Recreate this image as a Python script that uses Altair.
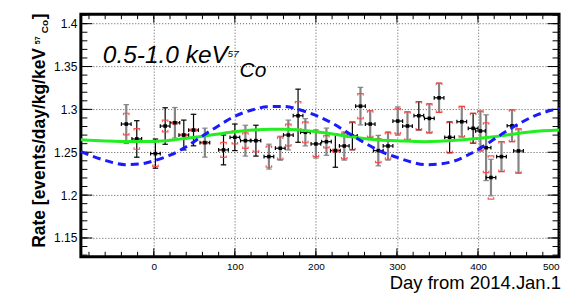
import altair as alt
import pandas as pd

# ---------------- data ----------------
days = [-34, -21, 2, 14, 26, 37, 49, 63, 86, 100, 113, 126, 142, 156, 166, 178,
        187, 200, 213, 224, 235, 245, 255, 267, 277, 289, 301, 313, 327, 340,
        352, 365, 380, 394, 403, 410, 416, 429, 442, 450]
rates = [1.2829, 1.2655, 1.2484, 1.2806, 1.2844, 1.2701, 1.2759, 1.2612, 1.2527,
         1.2674, 1.2635, 1.2635, 1.2449, 1.2547, 1.2701, 1.2926, 1.2733, 1.2597,
         1.2623, 1.2519, 1.2573, 1.2690, 1.3038, 1.2829, 1.2519, 1.2573, 1.2864,
         1.2806, 1.2926, 1.2895, 1.3135, 1.2674, 1.2856, 1.2779, 1.2748, 1.2553,
         1.2205, 1.2449, 1.2809, 1.2515]
stat_err = [0.0227, 0.0213, 0.0170, 0.0213, 0.0178, 0.0174, 0.0184, 0.0169, 0.0174,
            0.0155, 0.0180, 0.0180, 0.0145, 0.0140, 0.0174, 0.0310, 0.0159, 0.0165,
            0.0159, 0.0194, 0.0165, 0.0161, 0.0219, 0.0155, 0.0178, 0.0165, 0.0165,
            0.0165, 0.0165, 0.0170, 0.0171, 0.0180, 0.0178, 0.0174, 0.0233, 0.0384,
            0.0213, 0.0174, 0.0186, 0.0258]
sys_err = [0.0126, 0.0120, 0.0150, 0.0068, 0.0012, 0.0010, 0.0012, 0.0012, 0.0087,
           0.0077, 0.0091, 0.0130, 0.0124, 0.0131, 0.0126, 0.0165, 0.0122, 0.0149,
           0.0072, 0.0015, 0.0151, 0.0161, 0.0147, 0.0155, 0.0140, 0.0155, 0.0149,
           0.0165, 0.0165, 0.0170, 0.0171, 0.0180, 0.0178, 0.0174, 0.0233, 0.0290,
           0.0252, 0.0174, 0.0186, 0.0258]
bar_kind = ["gray", "black", "black", "black", "gray", "black", "black", "gray",
            "black", "black", "gray", "black", "gray", "gray", "gray", "black",
            "gray", "gray", "gray", "black", "gray", "black", "gray", "gray",
            "gray", "gray", "gray", "gray", "black", "gray", "gray", "black",
            "gray", "black", "gray", "gray", "gray", "gray", "gray", "gray"]
x_half = [6] * len(days)

blue_days = [-90, -60, -35, -15, 0, 20, 40, 60, 80, 100, 120, 140, 160, 180, 200,
             220, 240, 260, 280, 300, 320, 335, 350, 370, 390, 410, 430, 450, 470, 500]
blue_rate = [1.2507, 1.2405, 1.2355, 1.2365, 1.2400, 1.2465, 1.2565, 1.2690, 1.2810,
             1.2920, 1.2990, 1.3030, 1.3035, 1.2995, 1.2930, 1.2840, 1.2725, 1.2610,
             1.2510, 1.2440, 1.2380, 1.2355, 1.2360, 1.2395, 1.2480, 1.2590, 1.2715,
             1.2830, 1.2925, 1.3012]
green_days = [-90, -60, -30, 0, 30, 56, 100, 144, 162, 200, 244, 279, 300, 334,
              378, 420, 466, 500]
green_rate = [1.2645, 1.2632, 1.2625, 1.2625, 1.2650, 1.2680, 1.2740, 1.2767, 1.2767,
              1.2740, 1.2680, 1.2643, 1.2635, 1.2623, 1.2643, 1.2680, 1.2740, 1.2759]

x_major = [0, 100, 200, 300, 400, 500]
x_minor = list(range(-80, 501, 20))
y_major = [1.15, 1.2, 1.25, 1.3, 1.35, 1.4]
y_minor = [round(1.13 + 0.01 * i, 2) for i in range(29)]

# ---------------- chart ----------------
W, H = 479, 243
FONT = "Liberation Sans"
X0, X1 = -90, 500
Y0, Y1 = 1.128, 1.411
xs = alt.Scale(domain=[X0, X1], nice=False, zero=False)
ys = alt.Scale(domain=[Y0, Y1], nice=False, zero=False)
XPX = (X1 - X0) / W   # data units per pixel
YPX = (Y1 - Y0) / H

AX_X = alt.Axis(values=x_major, format="d", grid=True, gridColor="#555", gridDash=[1, 2],
                gridWidth=1, ticks=False, domain=False, labelFont=FONT, labelFontSize=10,
                labelColor="black", labelPadding=5, title=None)
AX_Y = alt.Axis(values=y_major, format="~g", grid=True, gridColor="#555", gridDash=[1, 2],
                gridWidth=1, ticks=False, domain=False, labelFont=FONT, labelFontSize=12,
                labelColor="black", labelPadding=4, title=None)

X = lambda f: alt.X(f, type="quantitative", scale=xs, axis=AX_X)
Y = lambda f: alt.Y(f, type="quantitative", scale=ys, axis=AX_Y)

def xticks(vals, length):
    d = alt.Chart(pd.DataFrame({"v": vals})).transform_calculate(
        b0=f"{Y0}", b1=f"{Y0} + {length * YPX}",
        t0=f"{Y1}", t1=f"{Y1} - {length * YPX}")
    bot = d.mark_rule(color="black", strokeWidth=1).encode(x=X("v"), y=Y("b0"), y2="b1:Q")
    top = d.mark_rule(color="black", strokeWidth=1).encode(x=X("v"), y=Y("t0"), y2="t1:Q")
    return [bot, top]

def yticks(vals, length):
    d = alt.Chart(pd.DataFrame({"v": vals})).transform_calculate(
        l0=f"{X0}", l1=f"{X0} + {length * XPX}",
        r0=f"{X1}", r1=f"{X1} - {length * XPX}")
    left = d.mark_rule(color="black", strokeWidth=1).encode(y=Y("v"), x=X("l0"), x2="l1:Q")
    right = d.mark_rule(color="black", strokeWidth=1).encode(y=Y("v"), x=X("r0"), x2="r1:Q")
    return [left, right]

layers = xticks(x_major, 8.5) + xticks(x_minor, 5) + yticks(y_major, 11.5) + yticks(y_minor, 6.5)

pts = pd.DataFrame({"day": days, "rate": rates, "stat": stat_err, "sys": sys_err,
                    "kind": bar_kind, "xh": x_half})
base = alt.Chart(pts).transform_calculate(
    lo="datum.rate - datum.stat", hi="datum.rate + datum.stat",
    slo="datum.rate - datum.sys", shi="datum.rate + datum.sys",
    xlo="datum.day - datum.xh", xhi="datum.day + datum.xh")

for kind, col, sw in [("gray", "#858585", 2.2), ("black", "#000000", 1.2)]:
    b = base.transform_filter(alt.datum.kind == kind)
    layers.append(b.mark_rule(color=col, strokeWidth=sw).encode(x=X("day"), y=Y("lo"), y2="hi:Q"))
    for f in ["lo", "hi"]:
        layers.append(b.mark_point(shape="M-1,0L1,0", size=30, filled=False, color=col,
                                   strokeWidth=1.2, opacity=1).encode(x=X("day"), y=Y(f)))

# horizontal bars with end caps
layers.append(base.mark_rule(color="black", strokeWidth=1.2).encode(x=X("xlo"), x2="xhi:Q", y=Y("rate")))
for f in ["xlo", "xhi"]:
    layers.append(base.mark_point(shape="M0,-1L0,1", size=14, filled=False, color="black",
                                  strokeWidth=1.2, opacity=1).encode(x=X(f), y=Y("rate")))

# systematic brackets (red)
layers.append(base.mark_point(shape="M-1,0.7L-1,0L1,0L1,0.7", size=30, filled=False,
                              color="#ff3b3b", strokeWidth=1.2, opacity=0.85).encode(x=X("day"), y=Y("shi")))
layers.append(base.mark_point(shape="M-1,-0.7L-1,0L1,0L1,-0.7", size=30, filled=False,
                              color="#ff3b3b", strokeWidth=1.2, opacity=0.85).encode(x=X("day"), y=Y("slo")))

# central markers
layers.append(base.mark_square(size=13, color="black", opacity=1).encode(x=X("day"), y=Y("rate")))

# fitted curves
layers.append(alt.Chart(pd.DataFrame({"day": green_days, "rate": green_rate})).mark_line(
    color="#22ee22", strokeWidth=3, interpolate="monotone").encode(x=X("day"), y=Y("rate")))
layers.append(alt.Chart(pd.DataFrame({"day": blue_days, "rate": blue_rate})).mark_line(
    color="#1a1aff", strokeWidth=3, strokeDash=[8, 5], interpolate="monotone").encode(x=X("day"), y=Y("rate")))

def txt(s, x, y, size, align="left", **kw):
    return alt.Chart(pd.DataFrame({"t": [s]})).mark_text(
        font=FONT, fontSize=size, color="black", align=align, baseline="alphabetic", **kw
    ).encode(x=alt.value(x), y=alt.value(y), text="t:N")

layers += [
    txt("Day from 2014.Jan.1", W + 2, 275, 18.5, align="right"),
    txt("Rate [events/day/kg/keV", -36, 234, 17.5, angle=270, fontWeight="bold"),
    txt("57", -41, 30, 7, angle=270, fontWeight="bold"),
    txt("Co", -33, 19, 10, angle=270, fontWeight="bold"),
    txt("]", -36, 5, 17.5, angle=270, fontWeight="bold"),
    txt("0.5-1.0 keV", 22, 49, 24.5, fontStyle="italic"),
    txt("57", 147, 43, 10, fontStyle="italic"),
    txt("Co", 159, 63, 21, fontStyle="italic"),
]

chart = alt.layer(*layers).properties(
    width=W, height=H,
    autosize=alt.AutoSizeParams(type="none"),
    padding={"left": 73, "top": 6, "right": 14, "bottom": 36},
).configure_view(stroke="black", strokeWidth=3)

chart.save("out.html", embed_options={"renderer": "svg", "actions": False})
